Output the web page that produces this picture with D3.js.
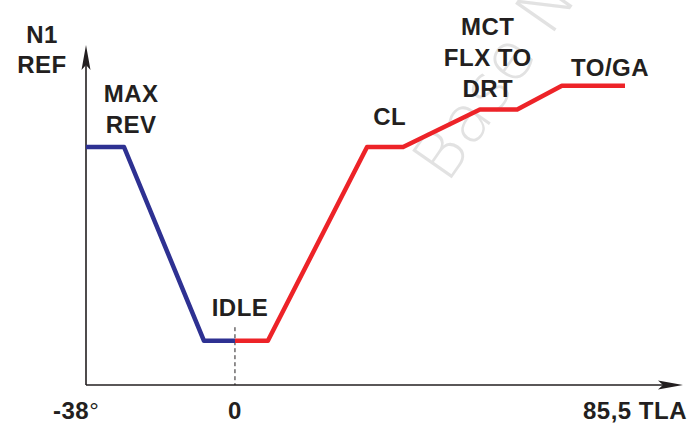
<!DOCTYPE html>
<html>
<head>
<meta charset="utf-8">
<script src="https://cdn.jsdelivr.net/npm/d3@7"></script>
<style>
	body { margin: 0; background: #fff; }
	text { font-family: "Liberation Sans", Arial, sans-serif; }
</style>
</head>
<body>
<div id="chart"></div>
<script>
// reverse thrust branch (blue)
const revTla = [-38, -28.3, -7.9, 0];
const revN1 = [70, 70, 13, 13];

// forward thrust branch (red)
const fwdTla = [0, 8.4, 33.7, 42.9, 62.5, 72, 83.4, 99.5];
const fwdN1 = [13, 13, 70, 70, 81, 81, 88, 88];

// detent names
const detentNames = [["MAX", "REV"], ["IDLE"], ["CL"], ["MCT", "FLX TO", "DRT"], ["TO/GA"]];
const detentTla = [-26.5, 1.3, 39.5, 64.5, 95.7];
const detentN1 = [74.1, 20.3, 76.5, 84.7, 90.9];

// axis labels
const tickLabels = ["-38", "0", "85,5 TLA"];
const tickValues = [-38, 0, 114.3];
const yTitle = ["N1", "REF"];

const width = 687;
const height = 423;
const ink = "#231f20";

const svg = d3.select("#chart")
	.append("svg")
	.attr("width", width)
	.attr("height", height);

const x = d3.scaleLinear()
	.domain([-38, 114.3])
	.range([86, 683]);

const y = d3.scaleLinear()
	.domain([0, 100])
	.range([385, 45]);

// watermark
svg.append("text")
	.attr("transform", "translate(447,185) rotate(-55)")
	.style("font-family", "'DejaVu Sans'")
	.attr("font-weight", 200)
	.attr("font-size", 66)
	.attr("fill", "#e2e2e2")
	.text("Base Nav");

// axes
svg.append("line")
	.attr("x1", x(-38)).attr("x2", x(114.3) - 10)
	.attr("y1", y(0)).attr("y2", y(0))
	.attr("stroke", ink)
	.attr("stroke-width", 1.6);

svg.append("line")
	.attr("x1", x(-38)).attr("x2", x(-38))
	.attr("y1", y(0)).attr("y2", y(100) + 10)
	.attr("stroke", ink)
	.attr("stroke-width", 1.6);

// arrow heads
const xt = x(114.3), yt = y(0);
svg.append("path")
	.attr("d", "M" + xt + "," + yt + " L" + (xt - 25) + "," + (yt - 4.5) + " L" + (xt - 20) + "," + yt + " L" + (xt - 25) + "," + (yt + 4.5) + " Z")
	.attr("fill", ink);

const xa = x(-38), ya = y(100);
svg.append("path")
	.attr("d", "M" + xa + "," + ya + " L" + (xa - 4.5) + "," + (ya + 25) + " L" + xa + "," + (ya + 20) + " L" + (xa + 4.5) + "," + (ya + 25) + " Z")
	.attr("fill", ink);

// idle marker
svg.append("line")
	.attr("x1", x(0)).attr("x2", x(0))
	.attr("y1", y(17)).attr("y2", y(0))
	.attr("stroke", ink)
	.attr("stroke-width", 1)
	.attr("stroke-dasharray", "4,3");

const line = d3.line()
	.x((d) => x(d[0]))
	.y((d) => y(d[1]));

svg.append("path")
	.datum(fwdTla.map((t, i) => [t, fwdN1[i]]))
	.attr("d", line)
	.attr("fill", "none")
	.attr("stroke", "#ed2328")
	.attr("stroke-width", 4.5)
	.attr("stroke-linejoin", "round");

svg.append("path")
	.datum(revTla.map((t, i) => [t, revN1[i]]))
	.attr("d", line)
	.attr("fill", "none")
	.attr("stroke", "#2e3192")
	.attr("stroke-width", 4.5)
	.attr("stroke-linejoin", "round");

// detent labels, last line sits on the anchor
const labels = svg.append("g")
	.attr("font-size", 24)
	.attr("font-weight", "bold")
	.attr("letter-spacing", 0.5)
	.attr("fill", ink)
	.attr("text-anchor", "middle");

detentNames.forEach((lines, i) => {
	lines.forEach((s, j) => {
		labels.append("text")
			.attr("x", x(detentTla[i]))
			.attr("y", y(detentN1[i]) - (lines.length - 1 - j) * 31)
			.text(s);
	});
});

// y title
yTitle.forEach((s, j) => {
	labels.append("text")
		.attr("x", 42)
		.attr("y", 43 + j * 30)
		.text(s);
});

// tick labels
const ticks = svg.append("g")
	.attr("font-size", 24)
	.attr("font-weight", "bold")
	.attr("letter-spacing", 0.5)
	.attr("fill", ink);

ticks.append("text")
	.attr("x", x(tickValues[0]) - 33)
	.attr("y", 419)
	.text(tickLabels[0])
	.append("tspan")
	.attr("font-weight", "normal")
	.text("°");

ticks.append("text")
	.attr("x", x(tickValues[1]))
	.attr("y", 419)
	.attr("text-anchor", "middle")
	.text(tickLabels[1]);

ticks.append("text")
	.attr("x", x(tickValues[2]) + 4)
	.attr("y", 419)
	.attr("text-anchor", "end")
	.text(tickLabels[2]);
</script>
</body>
</html>
